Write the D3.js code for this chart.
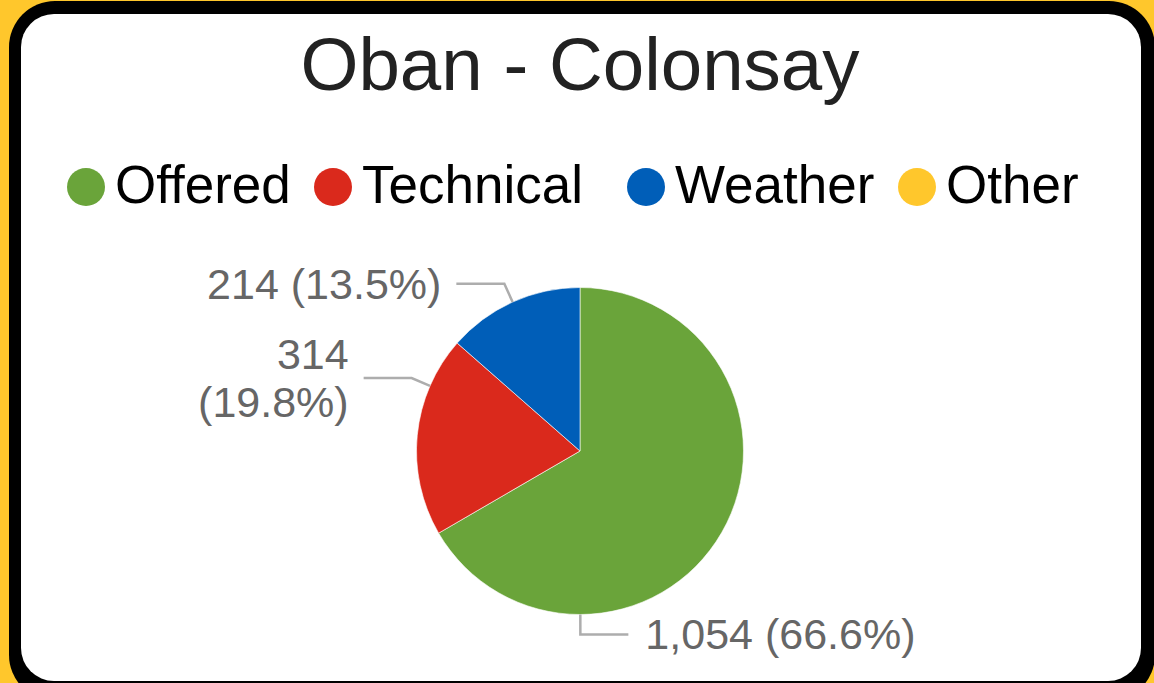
<!DOCTYPE html>
<html>
<head>
<meta charset="utf-8">
<script src="https://cdn.jsdelivr.net/npm/d3@7"></script>
<style>
  html, body { margin: 0; padding: 0; background: #FFC72C; }
  svg { display: block; }
  text { font-family: "Liberation Sans", Arial, sans-serif; }
</style>
</head>
<body>
<svg id="chart" width="1154" height="683"></svg>
<script>
// Sailing outcomes on the Oban - Colonsay route
const title = "Oban - Colonsay";
const categories = ["Offered", "Technical", "Weather", "Other"];
const values = [1054, 314, 214, 0];
const colors = ["#6AA43A", "#DA291C", "#005EB8", "#FFC72C"];

const W = 1154, H = 683;
const svg = d3.select("#chart");

// Card frame: black rounded border over the yellow page
svg.append("rect").attr("x", 0).attr("y", 0).attr("width", W).attr("height", H).attr("fill", "#FFC72C");
svg.append("rect").attr("x", 9).attr("y", 1).attr("width", 1146).attr("height", 700)
  .attr("rx", 46).attr("fill", "#000");
svg.append("rect").attr("x", 21).attr("y", 14).attr("width", 1120).attr("height", 667)
  .attr("rx", 33).attr("fill", "#fff");

// Title
svg.append("text").attr("x", 580).attr("y", 90).attr("text-anchor", "middle")
  .attr("font-size", 74.5).attr("fill", "#222").text(title);

// Legend
const legendX = [86, 333, 646, 917];
const legendY = 187;
const lg = svg.append("g");
categories.forEach((c, i) => {
  lg.append("circle").attr("cx", legendX[i]).attr("cy", legendY).attr("r", 19).attr("fill", colors[i]);
  lg.append("text").attr("x", legendX[i] + 29).attr("y", 203)
    .attr("font-size", 53).attr("fill", "#000").text(c);
});

// Pie
const cx = 580, cy = 451, r = 163.5;
const total = d3.sum(values);
const data = categories.map((c, i) => ({ cat: c, value: values[i], color: colors[i] }));
const pie = d3.pie().sort(null).value(d => d.value);
const arcs = pie(data);
const arc = d3.arc().innerRadius(0).outerRadius(r);

const g = svg.append("g").attr("transform", `translate(${cx},${cy})`);
g.selectAll("path").data(arcs.filter(a => a.data.value > 0)).join("path")
  .attr("d", arc).attr("fill", d => d.data.color)
  .attr("stroke", "#fff").attr("stroke-width", 0.6);

// Leader lines and value labels
const leaderPos = { Offered: 0.75, Technical: 0.75, Weather: 0.5 };
const wrapLabels = new Set(["Technical"]);
const fmtNum = d3.format(",");
const fmtPct = d3.format(".1f");
const fs = 43;

arcs.filter(a => a.data.value > 0).forEach(a => {
  const ang = a.startAngle + leaderPos[a.data.cat] * (a.endAngle - a.startAngle);
  const pt = rad => [rad * Math.sin(ang), -rad * Math.cos(ang)];
  const p1 = pt(r), p2 = pt(r + 20);
  const right = Math.sin(ang) >= 0;
  const p3 = [p2[0] + (right ? 48 : -48), p2[1]];
  g.append("polyline")
    .attr("points", [p1, p2, p3].map(p => p.join(",")).join(" "))
    .attr("fill", "none").attr("stroke", "#ADADAD").attr("stroke-width", 2.5);

  const numTxt = fmtNum(a.data.value);
  const pctTxt = "(" + fmtPct(a.data.value / total * 100) + "%)";
  const tx = right ? p3[0] + 17 : p3[0] - 15;
  const t = g.append("text")
    .attr("x", tx)
    .attr("text-anchor", right ? "start" : "end")
    .attr("font-size", fs).attr("fill", "#666");
  if (wrapLabels.has(a.data.cat)) {
    t.append("tspan").attr("x", tx).attr("y", p3[1] - 24 + 15).text(numTxt);
    t.append("tspan").attr("x", tx).attr("y", p3[1] + 24 + 15).text(pctTxt);
  } else {
    t.attr("y", p3[1] + 15).text(numTxt + " " + pctTxt);
  }
});
</script>
</body>
</html>
